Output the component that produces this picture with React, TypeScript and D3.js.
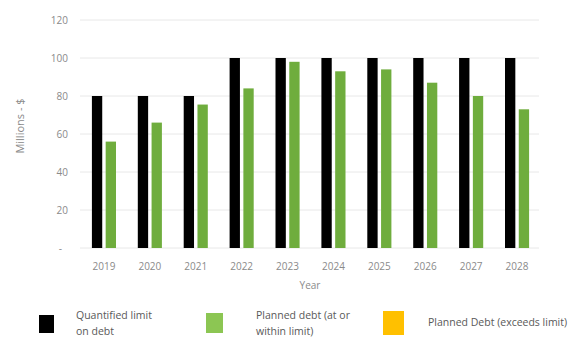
import React from "react";
import * as d3 from "d3";

const years = ["2019", "2020", "2021", "2022", "2023", "2024", "2025", "2026", "2027", "2028"];
const limitValues = [80, 80, 80, 100, 100, 100, 100, 100, 100, 100];
const plannedValues = [56, 66, 75.5, 84, 98, 93, 94, 87, 80, 73];
const yTicks = [0, 20, 40, 60, 80, 100, 120];
const seriesColors = ["#000000", "#6fad3d", "#ffc000"];

const W = 576, H = 338;
const plot = { left: 80, right: 539, top: 20, bottom: 248 };

export default function App() {
  const x0 = d3.scaleBand<string>().domain(years).range([plot.left + 1, plot.right + 1]).paddingInner(0.475).paddingOuter(0.2375);
  const x1 = d3.scaleBand<string>().domain(["limit", "planned"]).range([0, x0.bandwidth()]).paddingInner(0.25);
  const y = d3.scaleLinear().domain([0, 120]).range([plot.bottom, plot.top]);
  const font = "'Open Sans', 'Liberation Sans', sans-serif";
  const tickColor = "#8a8a8a";
  const legendColor = "#595959";

  return (
    <svg width={W} height={H} style={{ position: "absolute", left: 0, top: 0, background: "#fff" }} fontFamily={font}>
      {yTicks.map((t) => (
        <g key={t}>
          <line x1={plot.left} x2={plot.right} y1={y(t)} y2={y(t)} stroke="#e8e8e8" strokeWidth={1} />
          <text x={t === 0 ? 62 : 68} y={y(t)} dy="0.35em" textAnchor="end" fontSize={10} fill={tickColor}>
            {t === 0 ? "-" : t}
          </text>
        </g>
      ))}
      {years.map((yr, i) => (
        <g key={yr} transform={`translate(${x0(yr)},0)`}>
          <rect x={x1("limit")} y={y(limitValues[i])} width={x1.bandwidth()} height={y(0) - y(limitValues[i])} fill={seriesColors[0]} />
          <rect x={x1("planned")} y={y(plannedValues[i])} width={x1.bandwidth()} height={y(0) - y(plannedValues[i])} fill={seriesColors[1]} />
          <text x={x0.bandwidth() / 2} y={266} dy="0.35em" textAnchor="middle" fontSize={10} fill={tickColor}>{yr}</text>
        </g>
      ))}
      <text x={310} y={285} dy="0.35em" textAnchor="middle" fontSize={10} fill={tickColor}>Year</text>
      <text transform={`translate(20,126) rotate(-90)`} textAnchor="middle" dy="0.35em" fontSize={11} fill={tickColor}>Millions - $</text>

      {/* Legend */}
      <rect x={39} y={315} width={15} height={18} fill={seriesColors[0]} />
      <text x={76} y={315} dy="0.35em" fontSize={10.5} fill={legendColor}>Quantified  limit</text>
      <text x={76} y={331} dy="0.35em" fontSize={10.5} fill={legendColor}>on debt</text>

      <rect x={206} y={313} width={17} height={20} fill="#8cc653" />
      <text x={256} y={315} dy="0.35em" fontSize={10.5} fill={legendColor}>Planned debt (at or</text>
      <text x={256} y={331} dy="0.35em" fontSize={10.5} fill={legendColor}>within limit)</text>

      <rect x={383} y={311} width={21} height={24} fill={seriesColors[2]} />
      <text x={428} y={322} dy="0.35em" fontSize={10.5} fill={legendColor}>Planned Debt (exceeds limit)</text>
    </svg>
  );
}
